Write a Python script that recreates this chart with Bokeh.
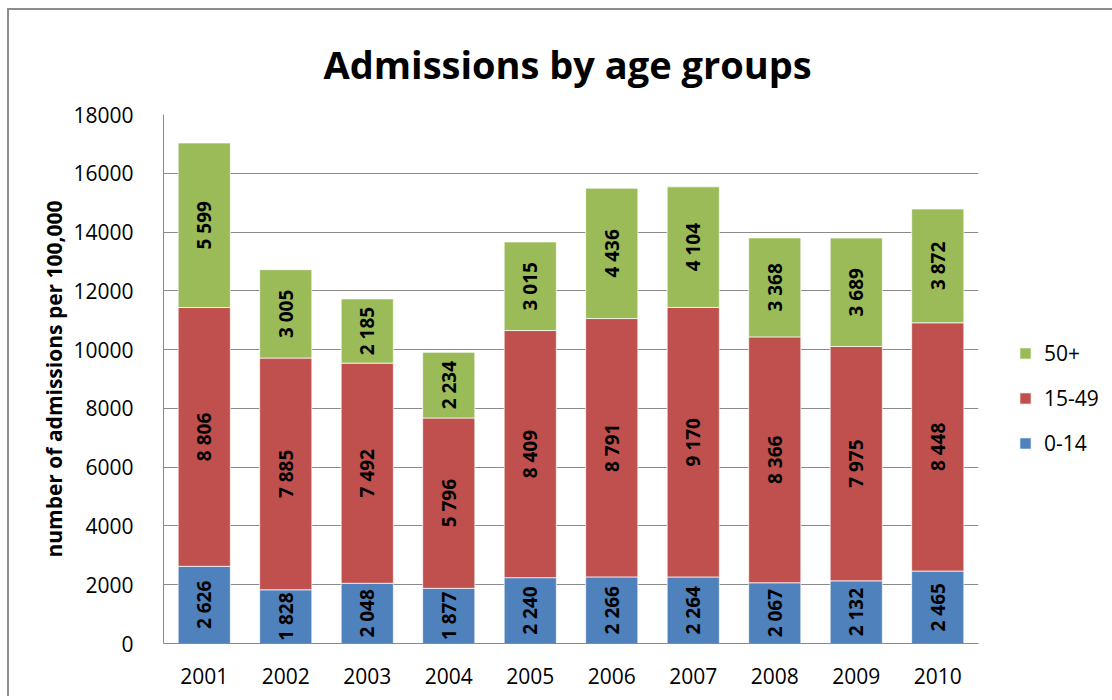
import math
from bokeh.plotting import figure
from bokeh.models import (ColumnDataSource, FactorRange, Range1d, Legend, LegendItem,
                          LabelSet, FixedTicker)
from bokeh.core.properties import value
from bokeh.embed import file_html
from bokeh.resources import INLINE

years = ["2001", "2002", "2003", "2004", "2005", "2006", "2007", "2008", "2009", "2010"]
age_0_14 = [2626, 1828, 2048, 1877, 2240, 2266, 2264, 2067, 2132, 2465]
age_15_49 = [8806, 7885, 7492, 5796, 8409, 8791, 9170, 8366, 7975, 8448]
age_50_plus = [5599, 3005, 2185, 2234, 3015, 4436, 4104, 3368, 3689, 3872]
series_names = ["0-14", "15-49", "50+"]
colors = ["#4F81BD", "#C0504D", "#9BBB59"]
y_ticks = [0, 2000, 4000, 6000, 8000, 10000, 12000, 14000, 16000, 18000]

FONT = "Open Sans"

source = ColumnDataSource(dict(years=years, s0=age_0_14, s1=age_15_49, s2=age_50_plus))

p = figure(x_range=FactorRange(*years, range_padding=0), y_range=Range1d(0, 18000),
           frame_width=815, frame_height=529, output_backend="svg", toolbar_location=None,
           min_border_left=154, min_border_right=120, min_border_top=104, min_border_bottom=55,
           title="Admissions by age groups")
p.margin = (10, 0, 0, 9)
p.styles = {"box-shadow": "-2px -2px 0 0 #8c8c8c"}

p.title.text_font = FONT
p.title.text_font_size = "38px"
p.title.text_font_style = "bold"
p.title.text_color = "black"
p.title.align = "left"
p.title.offset = 160
p.title.standoff = 50

renderers = p.vbar_stack(["s0", "s1", "s2"], x="years", width=0.64, source=source,
                         color=colors, line_color="white", line_alpha=0.7, line_width=1)

p.outline_line_color = None
p.xgrid.grid_line_color = None
p.ygrid.grid_line_color = "#8a8a8a"
p.ygrid.grid_line_width = 1

p.yaxis.ticker = FixedTicker(ticks=y_ticks)
for ax in (p.xaxis, p.yaxis):
    ax.axis_line_color = "#8a8a8a"
    ax.axis_line_width = 1
    ax.major_tick_line_color = None
    ax.minor_tick_line_color = None
    ax.major_label_text_font = FONT
    ax.major_label_text_font_size = "21px"
    ax.major_label_text_color = "black"
p.yaxis.major_label_standoff = 24
p.xaxis.major_label_standoff = 18
p.yaxis.axis_label = "number of admissions per 100,000"
p.yaxis.axis_label_text_font = FONT
p.yaxis.axis_label_text_font_size = "21px"
p.yaxis.axis_label_text_font_style = "bold"
p.yaxis.axis_label_text_color = "black"
p.yaxis.axis_label_standoff = 2

# data labels centred in each segment
lx, ly, lt = [], [], []
for i, yr in enumerate(years):
    base = 0
    for vals in (age_0_14, age_15_49, age_50_plus):
        v = vals[i]
        lx.append(yr)
        ly.append(base + v / 2)
        lt.append(f"{v:,}".replace(",", " "))
        base += v
lsrc = ColumnDataSource(dict(x=lx, y=ly, t=lt))
labels = LabelSet(x="x", y="y", text="t", source=lsrc, angle=math.pi / 2,
                  text_align="center", text_baseline="middle",
                  text_font=value(FONT), text_font_size="19px", text_font_style="bold",
                  text_color="black")
p.add_layout(labels)

items = [LegendItem(label=series_names[k], renderers=[renderers[k]]) for k in (2, 1, 0)]
legend = Legend(items=items, location=(40, 186), padding=0, margin=0,
                glyph_width=14, glyph_height=14, label_standoff=12, spacing=17,
                label_text_font=FONT, label_text_font_size="21px", label_text_color="black",
                border_line_color=None, background_fill_alpha=0)
p.add_layout(legend, "right")

open("out.html", "w").write(file_html(p, INLINE))
